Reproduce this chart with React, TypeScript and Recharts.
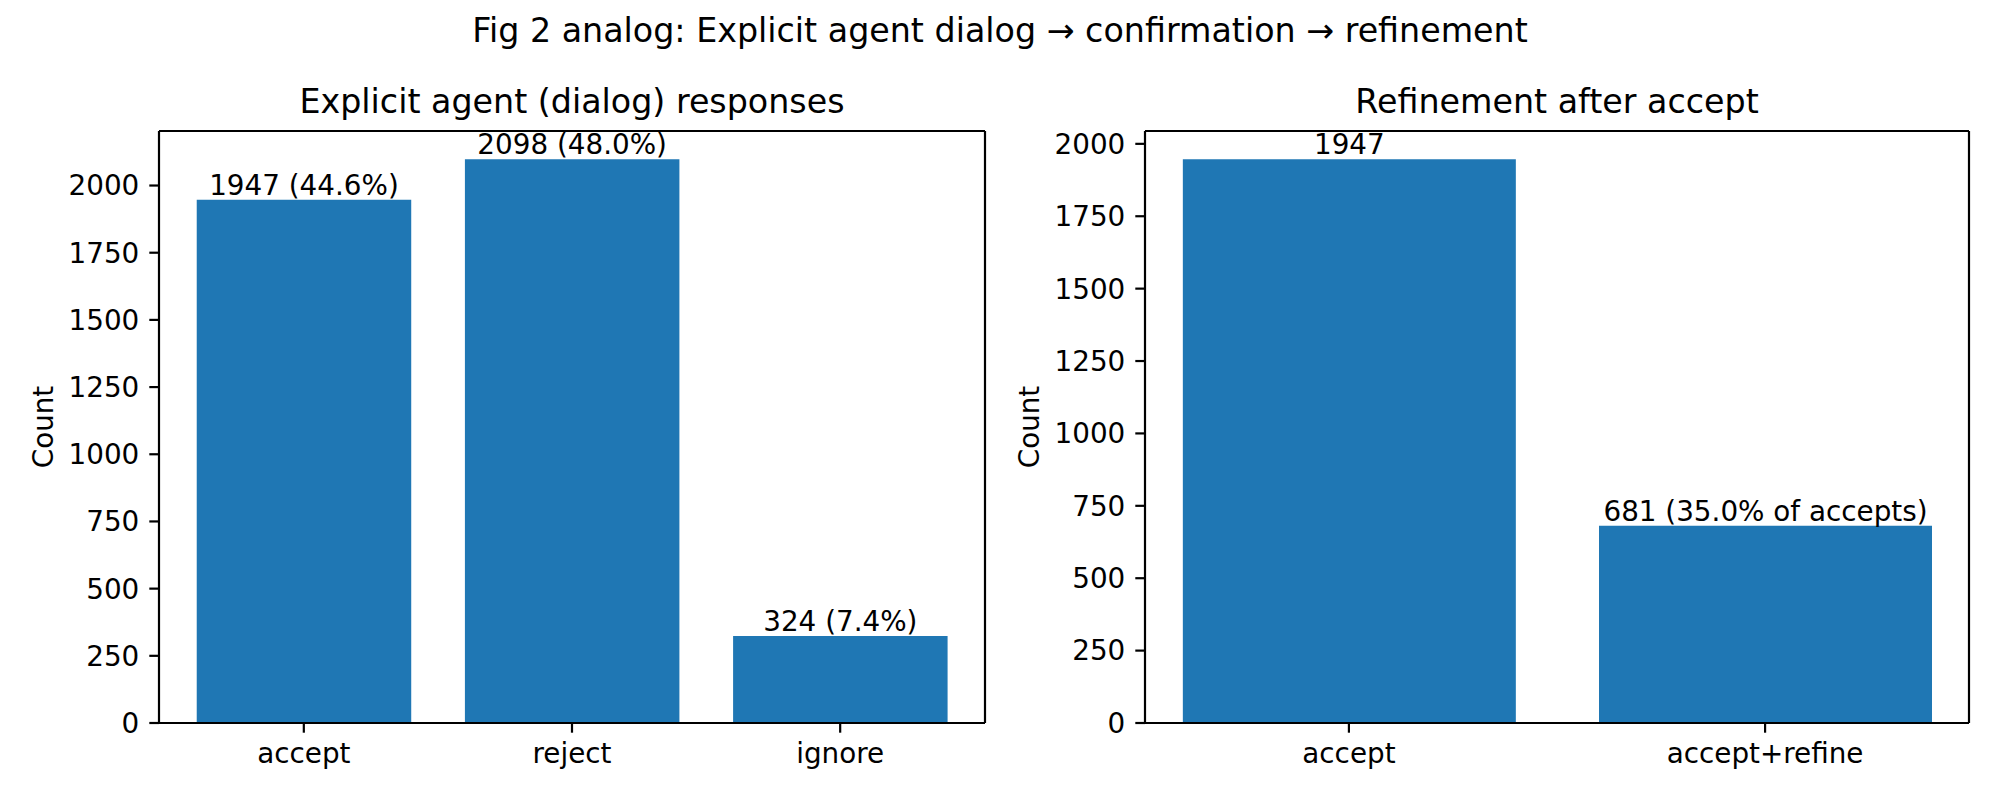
import React from 'react';
import { BarChart, Bar, XAxis, YAxis, LabelList, ReferenceLine } from 'recharts';

const suptitle = 'Fig 2 analog: Explicit agent dialog → confirmation → refinement';
const leftTitle = 'Explicit agent (dialog) responses';
const rightTitle = 'Refinement after accept';
const yLabel = 'Count';

const responseCategories = ['accept', 'reject', 'ignore'];
const responseCounts = [1947, 2098, 324];
const refineCategories = ['accept', 'accept+refine'];
const refineCounts = [1947, 681];
const yTicks = [0, 250, 500, 750, 1000, 1250, 1500, 1750, 2000];

const responseTotal = responseCounts.reduce((a, b) => a + b, 0);
const responseData = responseCategories.map((c, i) => ({
  x: i,
  name: c,
  value: responseCounts[i],
  label: `${responseCounts[i]} (${((responseCounts[i] / responseTotal) * 100).toFixed(1)}%)`,
}));
const refineData = refineCategories.map((c, i) => ({
  x: i,
  name: c,
  value: refineCounts[i],
  label:
    i === 0
      ? `${refineCounts[i]}`
      : `${refineCounts[i]} (${((refineCounts[i] / refineCounts[0]) * 100).toFixed(1)}% of accepts)`,
}));

const FONT = '"DejaVu Sans", sans-serif';
const FS = 27.8;
const TITLE_FS = 33.3;
const BLUE = '#1f77b4';
const LW = 2.2;

const tickStyle = { fill: '#000', fontSize: FS, fontFamily: FONT };
const lineStyle = { stroke: '#000', strokeWidth: LW };

function Panel({
  data,
  categories,
  xDomain,
  yMax,
  yAxisWidth,
  rightMargin,
  barSize,
}: {
  data: any[];
  categories: string[];
  xDomain: [number, number];
  yMax: number;
  yAxisWidth: number;
  rightMargin: number;
  barSize: number;
}) {
  return (
    <BarChart
      width={1000}
      height={800}
      data={data}
      margin={{ top: 131, right: rightMargin, bottom: 0, left: 0 }}
      style={{ fontFamily: FONT }}
    >
      <XAxis
        dataKey="x"
        type="number"
        domain={xDomain}
        ticks={categories.map((_, i) => i)}
        interval={0}
        tickFormatter={(v: number) => categories[v] ?? ''}
        height={77}
        tick={tickStyle}
        tickSize={9.7}
        tickMargin={11}
        axisLine={lineStyle}
        tickLine={lineStyle}
        allowDataOverflow
      />
      <YAxis
        type="number"
        domain={[0, yMax]}
        ticks={yTicks}
        interval={0}
        width={yAxisWidth}
        tick={tickStyle}
        tickSize={9.7}
        tickMargin={10}
        axisLine={lineStyle}
        tickLine={lineStyle}
        allowDataOverflow
      />
      <Bar dataKey="value" fill={BLUE} barSize={barSize} isAnimationActive={false}>
        <LabelList
          dataKey="label"
          position="top"
          offset={5}
          fill="#000"
          style={{ fill: '#000', fontSize: FS, fontFamily: FONT }}
        />
      </Bar>
      <ReferenceLine y={yMax} stroke="#000" strokeWidth={LW} ifOverflow="visible" />
      <ReferenceLine x={xDomain[1]} stroke="#000" strokeWidth={LW} ifOverflow="visible" />
    </BarChart>
  );
}

export default function App() {
  const leftYMax = Math.max(...responseCounts) * 1.05;
  const rightYMax = Math.max(...refineCounts) * 1.05;
  return (
    <div
      style={{
        position: 'absolute',
        left: 0,
        top: 0,
        width: 2000,
        height: 800,
        background: '#fff',
        fontFamily: FONT,
      }}
    >
      <div style={{ position: 'absolute', left: 0, top: 0 }}>
        <Panel
          data={responseData}
          categories={responseCategories}
          xDomain={[-0.54, 2.54]}
          yMax={leftYMax}
          yAxisWidth={159}
          rightMargin={15}
          barSize={214.5}
        />
      </div>
      <div style={{ position: 'absolute', left: 1000, top: 0 }}>
        <Panel
          data={refineData}
          categories={refineCategories}
          xDomain={[-0.49, 1.49]}
          yMax={rightYMax}
          yAxisWidth={145}
          rightMargin={31}
          barSize={333}
        />
      </div>
      <svg
        width={2000}
        height={800}
        style={{ position: 'absolute', left: 0, top: 0, pointerEvents: 'none' }}
      >
        <text x={1000} y={41.7} textAnchor="middle" fontSize={TITLE_FS} fontFamily={FONT} fill="#000">
          {suptitle}
        </text>
        <text x={572} y={113.3} textAnchor="middle" fontSize={TITLE_FS} fontFamily={FONT} fill="#000">
          {leftTitle}
        </text>
        <text x={1557} y={113.3} textAnchor="middle" fontSize={TITLE_FS} fontFamily={FONT} fill="#000">
          {rightTitle}
        </text>
        <text
          x={53}
          y={427}
          textAnchor="middle"
          fontSize={FS}
          fontFamily={FONT}
          fill="#000"
          transform="rotate(-90 53 427)"
        >
          {yLabel}
        </text>
        <text
          x={1039}
          y={427}
          textAnchor="middle"
          fontSize={FS}
          fontFamily={FONT}
          fill="#000"
          transform="rotate(-90 1039 427)"
        >
          {yLabel}
        </text>
      </svg>
    </div>
  );
}
